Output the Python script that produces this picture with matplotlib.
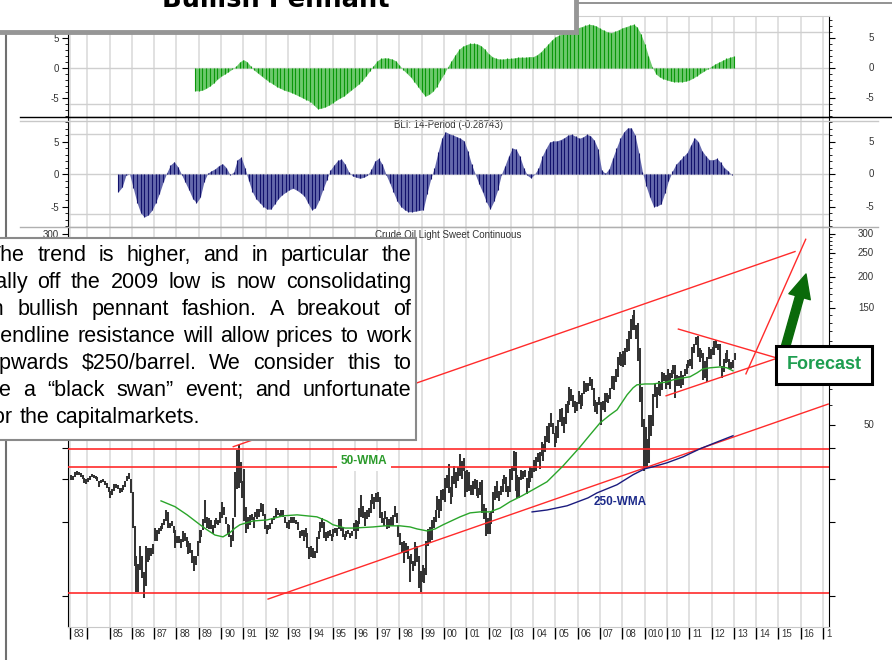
import numpy as np
import matplotlib.pyplot as plt
import matplotlib.transforms as mtransforms
from matplotlib.patches import Rectangle, FancyArrowPatch
from matplotlib.lines import Line2D
from matplotlib.ticker import FixedLocator, FixedFormatter, NullFormatter
from matplotlib.font_manager import FontProperties

plt.rcParams['font.family'] = ['Liberation Sans', 'DejaVu Sans']
plt.rcParams['axes.unicode_minus'] = False

# ---------------- data ----------------
# monthly crude oil ranges, April 1983 .. January 2013
first_month = 1983 + 3 / 12
month_high = [
    31.0, 30.8, 31.9, 32.2, 32.0, 31.6, 31.0, 30.2, 29.9,                    # 1983 Apr-Dec
    30.2, 30.8, 31.3, 31.0, 30.9, 30.5, 29.3, 29.8, 30.1, 29.5, 28.8, 27.9,  # 1984
    26.8, 27.2, 28.7, 28.6, 28.3, 27.5, 27.5, 28.2, 29.5, 30.8, 31.8, 30.0,  # 1985
    26.5, 19.2, 14.5, 13.5, 16.0, 14.5, 12.5, 16.0, 15.6, 15.6, 15.6, 16.2,  # 1986
    19.0, 18.6, 19.0, 19.2, 19.8, 20.5, 22.3, 21.9, 19.8, 20.2, 19.2, 18.6,  # 1987
    17.6, 17.5, 17.0, 18.4, 18.0, 17.4, 16.8, 16.4, 15.4, 14.6, 14.6, 16.8,  # 1988
    18.5, 18.6, 20.5, 24.5, 21.0, 20.8, 20.4, 19.4, 20.4, 20.8, 20.4, 22.0,  # 1989
    24.2, 23.0, 21.0, 19.6, 19.4, 17.7, 20.8, 31.9, 39.5, 41.2, 35.0, 29.5,  # 1990
    33.0, 23.0, 21.0, 21.3, 21.5, 21.0, 22.0, 22.7, 22.6, 24.0, 23.6, 21.6,  # 1991
    19.4, 19.4, 19.8, 20.8, 21.2, 22.8, 22.4, 21.8, 22.4, 22.3, 21.0, 20.0,  # 1992
    20.4, 20.9, 20.9, 20.9, 20.4, 20.0, 18.3, 18.6, 18.5, 19.0, 18.0, 15.8,  # 1993
    16.0, 15.6, 15.3, 17.3, 18.3, 20.0, 20.8, 20.0, 18.2, 18.4, 18.6, 17.8,  # 1994
    18.7, 18.9, 19.0, 20.5, 20.5, 19.0, 17.9, 18.3, 18.6, 18.0, 18.3, 19.8,  # 1995
    20.4, 20.2, 22.8, 25.8, 23.2, 21.9, 22.5, 22.8, 24.6, 26.0, 25.4, 26.2,  # 1996
    26.6, 25.2, 22.0, 20.8, 22.2, 21.0, 20.5, 21.0, 21.3, 23.2, 21.8, 19.4,  # 1997
    18.0, 16.6, 16.8, 16.4, 15.9, 14.5, 14.8, 13.9, 16.6, 15.9, 14.5, 12.6,  # 1998
    13.3, 13.0, 16.8, 18.8, 19.1, 20.3, 20.9, 22.5, 25.5, 24.8, 27.0, 27.2,  # 1999
    30.2, 31.0, 34.4, 27.9, 30.8, 34.0, 32.0, 33.6, 37.8, 35.6, 36.6, 32.2,  # 2000
    32.6, 32.0, 28.4, 29.3, 30.0, 29.6, 27.6, 29.1, 29.8, 23.8, 22.8, 20.7,  # 2001
    21.7, 22.2, 26.4, 28.0, 29.4, 26.7, 28.1, 30.1, 31.2, 30.4, 28.0, 32.9,  # 2002
    34.0, 39.0, 38.5, 31.0, 30.4, 32.6, 32.4, 32.5, 30.2, 32.4, 33.5, 33.2,  # 2003
    35.8, 36.7, 38.4, 38.6, 42.4, 41.7, 44.9, 49.4, 50.5, 55.7, 50.9, 46.3,  # 2004
    49.4, 52.3, 57.6, 58.3, 53.5, 60.9, 62.3, 70.9, 69.7, 66.0, 62.4, 61.5,  # 2005
    68.7, 65.9, 67.1, 75.4, 74.0, 73.9, 78.4, 77.0, 70.3, 62.9, 61.9, 64.5,  # 2006
    61.5, 62.4, 67.0, 67.4, 66.0, 70.8, 78.8, 78.8, 84.1, 94.6, 99.3, 96.9,  # 2007
    100.1, 102.6, 111.8, 120.0, 135.1, 140.4, 147.3, 126.8, 130.0, 102.9, 71.0, 52.5,  # 2008
    49.0, 43.5, 54.7, 54.8, 66.9, 73.4, 71.4, 75.0, 74.3, 82.0, 81.0, 79.4,  # 2009
    83.9, 81.0, 83.8, 87.2, 87.2, 79.8, 79.2, 82.9, 79.7, 84.4, 88.6, 92.1,  # 2010
    92.6, 103.4, 106.9, 113.9, 114.8, 102.6, 100.6, 97.6, 90.5, 94.6, 103.4, 101.2,  # 2011
    103.7, 109.8, 110.6, 106.4, 106.2, 86.6, 92.9, 98.3, 100.4, 92.7, 90.2, 91.6,  # 2012
    98.2,                                                                    # 2013 Jan
]
month_low = [
    29.8, 29.8, 30.6, 31.0, 31.2, 30.4, 29.9, 29.0, 28.7,
    29.2, 29.8, 30.4, 30.2, 30.0, 29.4, 27.9, 28.9, 29.2, 28.2, 27.6, 26.5,
    25.0, 25.8, 26.9, 27.6, 27.3, 26.3, 26.6, 27.1, 27.8, 29.3, 30.0, 26.2,
    19.0, 13.2, 10.4, 10.4, 12.8, 11.8, 9.8, 11.0, 13.8, 14.0, 14.5, 14.8,
    16.8, 16.8, 17.8, 18.4, 18.8, 19.4, 20.2, 19.0, 19.0, 19.2, 18.1, 15.6,
    16.5, 16.4, 15.6, 16.6, 16.8, 15.8, 14.8, 14.9, 13.6, 12.6, 13.3, 14.5,
    16.5, 17.3, 18.5, 19.8, 19.0, 18.8, 18.8, 17.9, 19.0, 19.6, 19.4, 19.8,
    20.8, 21.4, 19.6, 17.8, 17.4, 15.8, 16.8, 21.0, 27.2, 27.6, 29.0, 25.0,
    20.2, 18.0, 18.8, 19.5, 20.4, 19.0, 20.9, 20.5, 21.0, 21.9, 21.2, 18.7,
    17.9, 18.6, 18.8, 19.6, 20.3, 21.0, 21.4, 20.9, 21.1, 20.9, 19.8, 18.9,
    18.8, 19.9, 19.9, 19.9, 19.6, 18.5, 17.2, 17.5, 16.8, 17.4, 15.7, 14.1,
    14.4, 14.2, 14.3, 14.9, 17.0, 18.2, 18.9, 17.2, 16.8, 17.2, 17.6, 16.8,
    17.4, 18.0, 17.6, 18.8, 18.4, 17.3, 16.9, 17.4, 17.8, 17.2, 17.6, 18.4,
    17.1, 18.3, 19.7, 21.0, 20.8, 19.2, 20.6, 21.0, 21.8, 23.6, 22.6, 24.2,
    24.2, 20.8, 19.8, 19.2, 20.6, 18.8, 19.0, 19.3, 19.2, 20.9, 19.8, 17.4,
    16.1, 15.1, 13.6, 14.9, 14.1, 11.4, 13.5, 12.6, 13.2, 13.8, 10.8, 10.4,
    11.4, 11.3, 12.2, 16.0, 16.6, 16.9, 19.0, 20.1, 22.3, 20.7, 22.2, 24.6,
    24.2, 27.6, 26.2, 23.6, 25.2, 28.7, 27.5, 29.3, 30.8, 30.0, 32.4, 25.2,
    26.6, 26.8, 25.8, 25.8, 27.4, 25.6, 25.0, 25.8, 21.8, 20.6, 17.5, 17.8,
    17.9, 19.6, 21.8, 24.5, 25.1, 24.4, 25.7, 26.4, 28.6, 26.6, 25.2, 26.4,
    29.6, 32.2, 26.9, 25.0, 25.0, 29.8, 29.9, 30.4, 26.0, 27.6, 29.1, 30.2,
    32.0, 32.4, 35.3, 33.0, 37.2, 35.5, 38.6, 42.3, 42.0, 48.7, 45.6, 40.3,
    42.1, 44.2, 51.2, 49.3, 46.2, 50.4, 55.9, 60.2, 62.1, 59.2, 55.9, 56.8,
    60.7, 57.6, 59.5, 66.3, 68.1, 68.2, 72.0, 69.0, 59.5, 56.5, 55.3, 60.0,
    49.9, 57.2, 56.4, 61.9, 61.4, 63.7, 69.7, 69.1, 74.4, 78.4, 87.6, 86.4,
    86.1, 87.7, 98.6, 99.6, 111.8, 121.6, 121.5, 111.3, 90.5, 62.0, 48.7, 32.4,
    33.2, 33.6, 34.9, 45.1, 49.3, 64.6, 58.3, 66.0, 65.1, 69.2, 75.1, 69.5,
    72.4, 69.5, 77.2, 80.6, 64.2, 71.5, 71.5, 70.8, 72.8, 79.1, 80.6, 85.1,
    86.4, 84.1, 97.7, 105.1, 94.6, 89.7, 93.4, 75.7, 77.1, 74.9, 92.3, 92.5,
    96.3, 96.2, 102.5, 100.7, 86.8, 77.3, 82.1, 89.5, 90.1, 84.4, 84.1, 84.9,
    91.4,
]

# moving averages
wma50_year = [1987.31, 1987.94, 1988.48, 1989.06, 1989.37, 1989.73, 1990.09, 1990.40,
              1990.63, 1990.85, 1991.43, 1992.06, 1992.78, 1993.41, 1994.30, 1994.75,
              1995.02, 1995.56, 1995.92, 1996.82, 1997.35, 1998.03, 1998.48, 1998.79,
              1999.24, 1999.60, 1999.96, 2000.72, 2001.17, 2001.61, 2002.06, 2002.51,
              2002.96, 2003.50, 2003.99, 2004.62, 2005.34, 2006.10, 2006.55, 2007.00,
              2007.44, 2007.76, 2008.21, 2008.48, 2008.65, 2009.01, 2009.37, 2010.00,
              2010.27, 2010.72, 2011.03, 2011.35, 2011.61, 2011.93, 2012.38, 2012.69,
              2012.96]
wma50_price = [24.4, 23.1, 21.4, 19.5, 18.6, 17.7, 17.4, 18.1,
               18.9, 19.5, 20.2, 20.4, 21.2, 21.4, 21.0, 20.2,
               19.5, 18.9, 18.9, 19.1, 19.3, 19.3, 19.1, 18.75,
               18.4, 18.75, 19.5, 21.0, 21.8, 22.0, 22.0, 22.8,
               24.2, 25.6, 27.1, 29.2, 33.9, 40.5, 45.4, 50.8,
               54.7, 57.4, 66.1, 70.6, 72.6, 73.2, 73.2, 74.6,
               76.1, 77.5, 78.3, 81.3, 84.3, 85.2, 85.9, 85.2,
               82.8]
wma250_year = [2003.95, 2004.62, 2005.52, 2006.46, 2006.86, 2007.76, 2008.48, 2009.01,
               2009.37, 2010.00, 2010.72, 2011.48, 2012.15, 2012.96]
wma250_price = [22.0, 22.4, 23.3, 25.1, 26.3, 28.4, 31.2, 33.0,
                33.6, 34.9, 36.9, 39.8, 42.1, 45.0]

# top oscillator (green), one value every two months from late 1988
bull_start = 1988 + 5 / 6
bull_osc = [
    -3.8,
    -3.8, -3.7, -3.4, -3.0, -2.5, -1.9,   # 1989
    -1.4, -1.0, -0.6, -0.2, 0.3, 1.0,     # 1990
    1.4, 1.05, 0.3, -0.4, -0.9, -1.4,     # 1991
    -1.9, -2.3, -2.7, -3.1, -3.4, -3.7,   # 1992
    -3.9, -4.1, -4.4, -4.7, -5.0, -5.3,   # 1993
    -5.6, -6.2, -6.8, -6.7, -6.5, -6.2,   # 1994
    -5.8, -5.4, -5.0, -4.7, -4.2, -3.7,   # 1995
    -3.2, -2.7, -2.1, -1.3, -0.5, 0.4,    # 1996
    1.2, 1.6, 1.7, 1.65, 1.5, 1.2,        # 1997
    0.5, -0.3, -0.9, -1.5, -2.3, -3.1,    # 1998
    -4.0, -4.7, -4.4, -3.9, -3.1, -2.0,   # 1999
    -1.0, 0.2, 1.2, 2.2, 3.1, 3.6,        # 2000
    3.9, 4.1, 4.1, 4.0, 3.7, 3.1,         # 2001
    2.4, 1.9, 1.6, 1.5, 1.5, 1.6,         # 2002
    1.6, 1.7, 1.8, 1.8, 1.8, 1.9,         # 2003
    1.9, 2.2, 2.7, 3.3, 4.0, 4.7,         # 2004
    5.2, 5.5, 5.8, 6.1, 6.3, 6.5,         # 2005
    6.7, 6.9, 7.1, 7.3, 7.2, 7.0,         # 2006
    6.6, 6.3, 6.0, 5.9, 6.1, 6.4,         # 2007
    6.7, 6.9, 7.1, 7.3, 6.8, 5.6,         # 2008
    4.0, 2.0, 0.2, -1.0, -1.5, -1.8,      # 2009
    -2.0, -2.2, -2.3, -2.3, -2.3, -2.2,   # 2010
    -2.0, -1.7, -1.3, -0.9, -0.5, -0.1,   # 2011
    0.3, 0.7, 1.0, 1.3, 1.6, 1.8,         # 2012
    2.0,
]

# BLI 14-period (blue), one value every two months from mid 1985
bli_start = 1985.4
bli_osc = [
    -2.7, -2.0, -0.2, 0.0, -2.2, -4.4, -6.0, -6.6, -6.3, -5.6,
    -4.4, -3.0, -1.3, 0.2, 1.4, 1.9, 1.1, -0.1, -1.3, -2.5,
    -3.8, -4.4, -3.6, -1.2, 0.1, 0.5, 0.8, 1.3, 1.6, 1.0,
    -0.1, 0.3, 2.2, 2.6, 1.0, -1.0, -2.7, -3.8, -4.4, -5.0,
    -5.4, -5.4, -4.6, -3.8, -3.2, -2.8, -2.4, -2.2, -2.5, -2.9,
    -3.4, -4.5, -5.5, -5.2, -4.0, -2.4, -0.9, 0.6, 1.4, 2.1,
    2.3, 1.5, 0.3, -0.3, -0.5, -0.65, -0.5, -0.2, 0.7, 2.0,
    2.4, 1.5, -0.1, -1.4, -2.8, -4.2, -5.0, -5.5, -5.8, -5.8,
    -5.7, -5.6, -5.5, -3.0, -0.8, 1.0, 3.4, 5.5, 6.5, 6.2,
    6.0, 5.75, 5.5, 5.1, 3.5, 1.5, 0.0, -1.5, -2.8, -4.3,
    -5.4, -4.2, -2.5, -0.1, 1.3, 2.8, 4.0, 3.8, 2.7, 1.0,
    -0.2, -0.6, 0.0, 0.9, 2.7, 3.9, 4.9, 5.1, 5.1, 5.3,
    5.6, 6.0, 6.1, 5.8, 5.5, 5.7, 6.1, 5.9, 5.2, 3.9,
    0.6, 0.1, 0.8, 2.5, 4.0, 5.5, 6.5, 7.1, 7.1, 6.0,
    3.3, 0.3, -1.9, -3.6, -5.0, -4.9, -4.6, -2.9, -1.0, 0.4,
    1.5, 2.1, 2.7, 3.3, 4.5, 5.6, 5.0, 3.6, 2.8, 2.2,
    2.2, 2.4, 1.8, 1.0, 0.5, -0.15,
]

# support / resistance levels and trendlines (year, price)
support_levels = [39.7, 33.4, 10.3]
upper_channel = ([1990.55, 2015.74], [40.6, 254.0])
lower_channel = ([1992.11, 2017.23], [9.7, 60.6])
pennant_top = ([2010.51, 2014.95], [122.6, 93.3])
pennant_bottom = ([2009.96, 2014.95], [65.5, 93.3])
breakout_line = ([2013.54, 2016.22], [80.5, 285.0])

year_ticks = [1983.25] + list(range(1984, 2018))
year_labels = ['83', '', '85', '86', '87', '88', '89', '90', '91', '92', '93', '94',
               '95', '96', '97', '98', '99', '00', '01', '02', '03', '04', '05', '06',
               '07', '08', '010', '10', '11', '12', '13', '14', '15', '16', '1']

price_ticks = [10, 20, 30, 40, 50, 100, 150, 200, 250, 300]
price_tick_labels = ['', '', '', '', '', '', '', '', '', '300']
price_right_ticks = [300, 250, 200, 150, 100, 50]
price_minor = [60, 70, 80, 90, 110, 120, 130, 140, 160, 170, 180, 190,
               210, 220, 230, 240, 260, 270, 280, 290]

note_lines = [
    "The trend is higher, and in particular the",
    "rally off the 2009 low is now consolidating",
    "in bullish pennant fashion. A breakout of",
    "trendline resistance will allow prices to work",
    "upwards $250/barrel. We consider this to",
    "be a \u201cblack swan\u201d event; and unfortunate",
    "for the capitalmarkets.",
]

# ---------------- figure ----------------
W, H = 892, 660
fig = plt.figure(figsize=(W / 100, H / 100), dpi=100)


def fx(px):
    return px / W


def fy(py):
    return 1 - py / H


x_left, x_right = 68.3, 829
aw = fx(x_right) - fx(x_left)
ax1 = fig.add_axes([fx(x_left), fy(117), aw, (117 - 16) / H])
ax2 = fig.add_axes([fx(x_left), fy(227), aw, (227 - 117) / H])
ax3 = fig.add_axes([fx(x_left), fy(627), aw, (627 - 227) / H])

grid_c = '#d8d8d8'
tick_c = '#333333'


def right_labels(ax, vals):
    tr = mtransforms.blended_transform_factory(ax.transAxes, ax.transData) + \
        mtransforms.ScaledTranslation(45 / 100, 0, fig.dpi_scale_trans)
    for v in vals:
        ax.text(1, v, str(v), transform=tr, ha='right', va='center', fontsize=7,
                color=tick_c, clip_on=False)


for ax in (ax1, ax2, ax3):
    ax.set_xlim(1983.152, 2017.265)
    ax.set_xticks(year_ticks)
    ax.grid(axis='x', color=grid_c, lw=1.1)
    ax.set_axisbelow(True)
    ax.spines['left'].set_color('black')
    ax.spines['right'].set_color('black')
    ax.tick_params(axis='y', which='both', left=True, right=True, direction='out',
                   labelleft=True, labelright=False, labelsize=7, labelcolor=tick_c, pad=2.4)
    ax.tick_params(axis='y', which='major', length=4.5, width=0.8)
    ax.tick_params(axis='y', which='minor', length=2.5, width=0.6)

for ax in (ax1, ax2):
    ax.tick_params(axis='x', length=0, labelbottom=False)
    ax.set_yticks([-5, 0, 5])
    ax.set_yticks(np.arange(-8, 9), minor=True)
    ax.yaxis.set_minor_formatter(NullFormatter())
    right_labels(ax, [5, 0, -5])

# top oscillator
ax1.set_ylim(-8.17, 8.67)
t_bull = bull_start + np.arange(len(bull_osc)) / 6
ax1.fill_between(t_bull, 0, bull_osc, color='#6cc86c', lw=0, zorder=2)
ax1.vlines(t_bull, 0, bull_osc, color='#0a980a', lw=0.8, zorder=3)
for v in (6, 0, -6):
    ax1.axhline(v, color='#cfcfcf', lw=1.0, zorder=1)
ax1.spines['top'].set_color('#cfcfcf')
ax1.spines['bottom'].set_color('black')

# BLI oscillator
ax2.set_ylim(-8.15, 8.77)
t_bli = bli_start + np.arange(len(bli_osc)) / 6
ax2.fill_between(t_bli, 0, bli_osc, color='#6468ac', lw=0, zorder=2)
ax2.vlines(t_bli, 0, bli_osc, color='#12126c', lw=0.8, zorder=3)
for v in (6.15, 0, -6.15):
    ax2.axhline(v, color='#cfcfcf', lw=1.0, zorder=1)
ax2.spines['top'].set_color('black')
ax2.spines['bottom'].set_color('#9a9a9a')
ax2.text(0.5, 7.5, 'BLI: 14-Period (-0.28743)',
         transform=mtransforms.blended_transform_factory(ax2.transAxes, ax2.transData),
         ha='center', va='center', fontsize=7, color=tick_c)

# price panel
ax3.set_yscale('log')
ax3.set_ylim(7.46, 319.9)
ax3.yaxis.set_major_locator(FixedLocator(price_ticks))
ax3.yaxis.set_major_formatter(FixedFormatter(price_tick_labels))
ax3.yaxis.set_minor_locator(FixedLocator(price_minor))
ax3.yaxis.set_minor_formatter(NullFormatter())
ax3.tick_params(axis='x', which='major', direction='out', length=8.6, width=1,
                color='black', labelbottom=False)
ax3.spines['top'].set_color('#9a9a9a')
ax3.spines['bottom'].set_color('#c8c8c8')
right_labels(ax3, price_right_ticks)

months = first_month + (np.arange(len(month_high)) + 0.5) / 12
ax3.vlines(months, month_low, month_high, color='#333333', lw=1.45, zorder=3)

red = '#ff2b2b'
for lvl in support_levels:
    ax3.axhline(lvl, color=red, lw=1.2, zorder=4)
for xs, ys in (upper_channel, lower_channel, pennant_top, pennant_bottom, breakout_line):
    ax3.plot(xs, ys, color=red, lw=1.0, zorder=4)

ax3.plot(wma50_year, wma50_price, color='#2aa52a', lw=1.0, zorder=5)
ax3.plot(wma250_year, wma250_price, color='#1b1b7e', lw=1.0, zorder=5)
ax3.text(1996.41, 35.5, '50-WMA', color='#2a9a2a', fontsize=8.5, fontweight='bold',
         ha='center', va='center', zorder=6,
         bbox=dict(boxstyle='square,pad=0.3', fc='white', ec='none'))
ax3.text(2007.89, 24.2, '250-WMA', color='#1c2a8a', fontsize=8.5, fontweight='bold',
         ha='center', va='center', zorder=6)
ax3.text(0.5, 1 - 8 / 400, 'Crude Oil Light Sweet Continuous', transform=ax3.transAxes,
         ha='center', va='center', fontsize=7, color=tick_c)

lab_tr = mtransforms.blended_transform_factory(ax3.transData, ax3.transAxes) + \
    mtransforms.ScaledTranslation(3 / 100, -7 / 100, fig.dpi_scale_trans)
for t, lab in zip(year_ticks, year_labels):
    ax3.text(t, 0, lab, transform=lab_tr, ha='left', va='center', fontsize=7,
             color=tick_c, clip_on=False)

# ---------------- frame decorations ----------------
def fig_line(xs, ys, color, lw, z=3):
    fig.add_artist(Line2D([fx(x) for x in xs], [fy(y) for y in ys],
                          transform=fig.transFigure, color=color, lw=lw, zorder=z))


fig_line([20, 892], [117, 117], 'black', 1.0)
fig_line([20, 878], [121, 121], '#c8c8c8', 1.0)
fig_line([20, 878], [227, 227], '#b0b0b0', 1.0)
fig_line([6, 6], [33, 660], '#707070', 1.5)
fig_line([576, 892], [3, 3], '#808080', 1.2)

# title box
fig.add_artist(Rectangle((fx(-10), fy(31.5)), fx(586), 41.5 / H, transform=fig.transFigure,
                         fc='white', ec='#969696', lw=3.5, zorder=11))
fig.text(fx(276), fy(7), 'Bullish Pennant', ha='center', va='baseline', fontsize=18.5,
         fontweight='bold', family='DejaVu Sans', zorder=12)

# commentary box with justified text
fig.add_artist(Rectangle((fx(-20), fy(440)), fx(436), 202 / H, transform=fig.transFigure,
                         fc='white', ec='#8a8a8a', lw=1.5, zorder=11))
renderer = fig.canvas.get_renderer()


def width_px(s, fp):
    return renderer.get_text_width_height_descent(s, fp, ismath=False)[0]


note_left, note_right = -12, 411
avail = note_right - note_left
fs = 15.5
while True:
    fp = FontProperties(family='Liberation Sans', size=fs)
    space = width_px('a a', fp) - width_px('aa', fp)
    need = max(sum(width_px(w, fp) for w in ln.split()) + 0.6 * space * (len(ln.split()) - 1)
               for ln in note_lines[:-1])
    if need <= avail or fs < 9:
        break
    fs -= 0.25

for i, ln in enumerate(note_lines):
    words = ln.split()
    ws = [width_px(w, fp) for w in words]
    if i < len(note_lines) - 1:
        gap = (avail - sum(ws)) / (len(words) - 1)
    else:
        gap = space
    x = note_left
    yb = 260.7 + 27.1 * i
    for w, wd in zip(words, ws):
        fig.text(fx(x), fy(yb), w, fontproperties=fp, ha='left', va='baseline', zorder=12)
        x += wd + gap

# forecast arrow and box
fig.add_artist(FancyArrowPatch((784, H - 352), (806, H - 274),
                               arrowstyle='simple,head_length=1.7,head_width=1.6,tail_width=0.6',
                               mutation_scale=10, color='#0a6a0a', shrinkA=0, shrinkB=0,
                               transform=mtransforms.IdentityTransform(), zorder=10))
fig.add_artist(Rectangle((fx(775.5), fy(384)), fx(96.5), 38.5 / H, transform=fig.transFigure,
                         fc='white', ec='black', lw=2.2, zorder=11))
fig.text(fx(824), fy(369), 'Forecast', ha='center', va='baseline', fontsize=13,
         fontweight='bold', color='#1e9e50', zorder=12)

fig.savefig('out.png', dpi=100)
